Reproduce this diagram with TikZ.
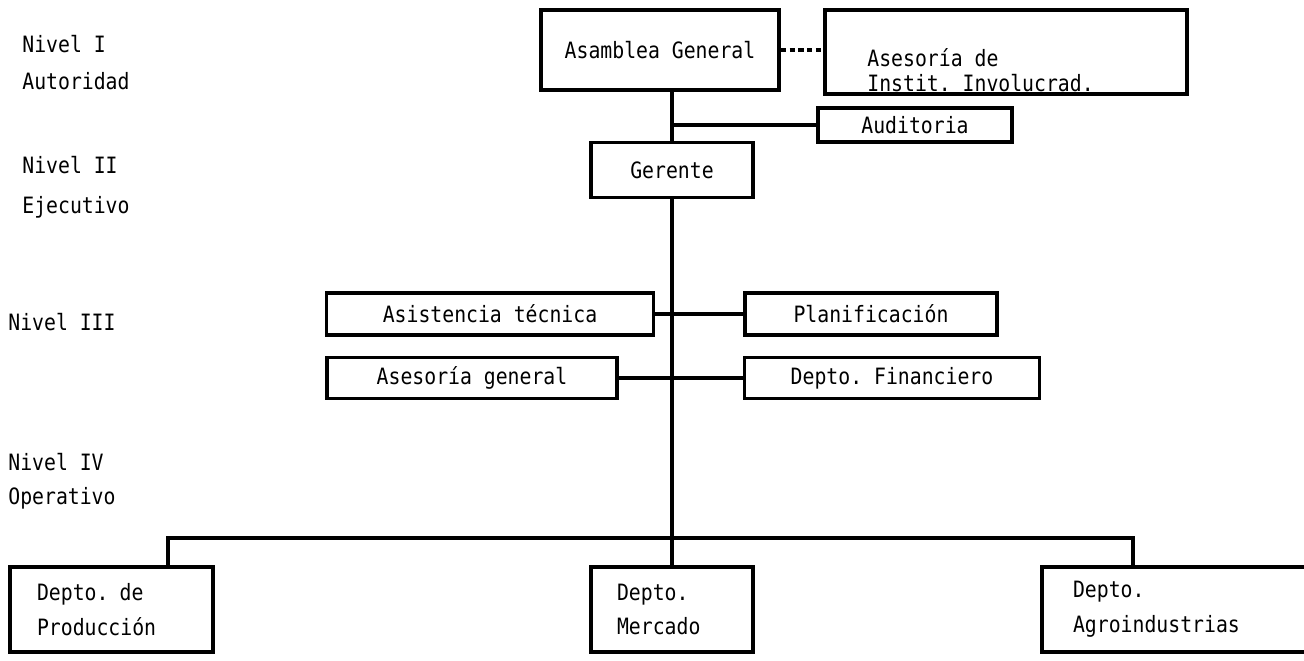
\documentclass[tikz,border=0pt]{standalone}
\usepackage{fontspec}
\setmonofont[FakeStretch=0.88]{DejaVu Sans Mono}

\begin{document}
\begin{tikzpicture}[x=0.02cm,y=-0.02cm,
  every node/.style={font=\ttfamily\fontsize{12.8}{15}\selectfont},
  caja/.style={draw,line width=2pt,inner sep=0pt},
  depto/.style={caja,minimum height=1.7cm,align=left,inner ysep=0pt,
    font=\ttfamily\fontsize{12.8}{19.8}\selectfont},
  nivel/.style={anchor=west,align=left,inner sep=0pt},
  linea/.style={line width=2pt}]

\useasboundingbox (0,0) rectangle (1304,660);

\node[nivel,font=\ttfamily\fontsize{12.8}{21}\selectfont] (nivel1) at (22,63) {Nivel I\\Autoridad};
\node[nivel,font=\ttfamily\fontsize{12.8}{22.7}\selectfont] (nivel2) at (22,187) {Nivel II\\Ejecutivo};
\node[nivel] (nivel3) at (8,322) {Nivel III};
\node[nivel,font=\ttfamily\fontsize{12.8}{19.3}\selectfont] (nivel4) at (8,481) {Nivel IV\\Operativo};

\node[caja,minimum width=4.76cm,minimum height=1.6cm] (asamblea) at (660,50) {Asamblea General};
\node[caja,minimum width=7.24cm,minimum height=1.68cm] (asesoria) at (1006,52) {};
\node[nivel,font=\ttfamily\fontsize{12.8}{14.2}\selectfont] (asesoriatxt) at (867,70) {Asesoría de\\Instit. Involucrad.};
\node[caja,minimum width=3.88cm,minimum height=0.68cm] (auditoria) at (915,125) {Auditoria};
\node[caja,minimum width=3.24cm,minimum height=1.1cm] (gerente) at (672,170) {Gerente};

\node[caja,minimum width=6.54cm,minimum height=0.84cm] (asistencia) at (490,314) {Asistencia técnica};
\node[caja,minimum width=5.04cm,minimum height=0.84cm] (planificacion) at (871,314) {Planificación};
\node[caja,minimum width=5.8cm,minimum height=0.82cm] (asesoriagen) at (472,378) {Asesoría general};
\node[caja,minimum width=5.9cm,minimum height=0.82cm] (financiero) at (892,378) {Depto. Financiero};

\node[depto,inner xsep=0.54cm,text width=2.98cm] (produccion) at (111.5,609.5) {Depto. de\\Producción};
\node[depto,inner xsep=0.52cm,text width=2.2cm] (mercado) at (672,609.5) {Depto.\\Mercado};
\node[depto,inner xsep=0.62cm,text width=4.52cm] (agro) at (1186,609.5) {Depto.\\Agroindustrias};

\coordinate (barizq) at (168,538);
\coordinate (barder) at (1133,538);

\draw[linea,densely dashed] (asamblea.east) -- (asesoria.west |- asamblea.east);
\draw[linea] (gerente.north) -- (gerente.north |- asamblea.south);
\draw[linea] (gerente.north |- auditoria.west) -- (auditoria.west);
\draw[linea] (gerente.south) -- (mercado.north);
\draw[linea] (asistencia.east) -- (planificacion.west);
\draw[linea] (asesoriagen.east) -- (financiero.west);
\draw[linea] (produccion.north -| barizq) -- (barizq) -- (barder) -- (agro.north -| barder);

\end{tikzpicture}
\end{document}
